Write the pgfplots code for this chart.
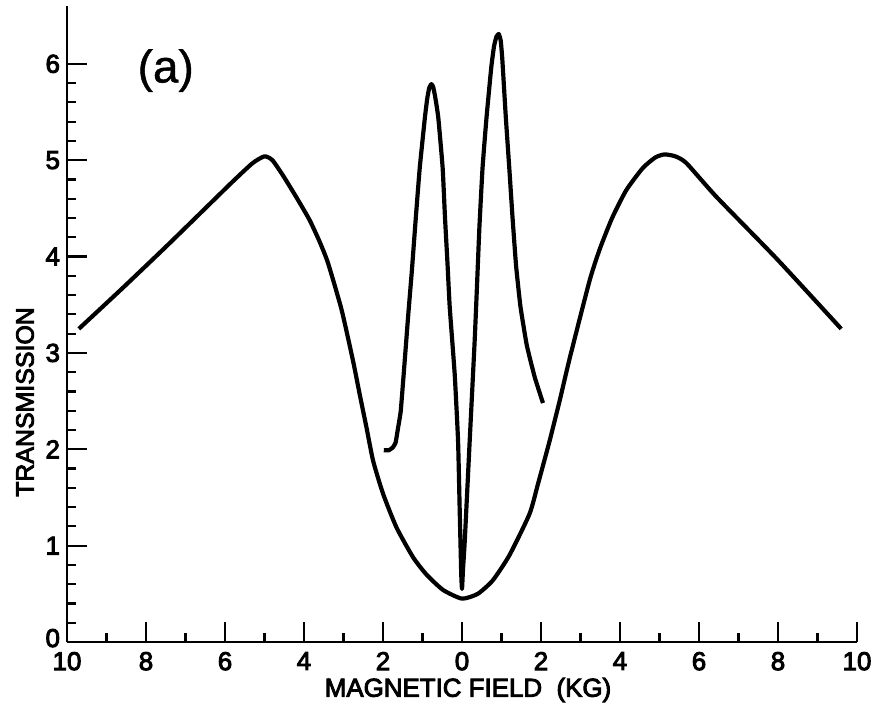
\documentclass[border=0pt]{standalone}
\usepackage{fontspec}
\setmainfont{Liberation Sans}[FakeBold=3.5]
\newfontfamily\biglabel{Liberation Sans}[FakeBold=1]
\usepackage{pgfplots}
\pgfplotsset{compat=1.18}

\begin{document}
\begin{tikzpicture}
\begin{axis}[
    name=ax,
    scale only axis,
    width=395bp, height=318bp,
    xmin=-10, xmax=10,
    ymin=0, ymax=6.6,
    axis x line*=bottom,
    axis y line*=left,
    axis line style={line width=1.3pt},
    tick align=inside,
    xtick={-10,-8,...,10},
    xticklabels={10,8,6,4,2,0,2,4,6,8,10},
    minor x tick num=1,
    ytick={0,1,...,6},
    yticklabels={\raisebox{4bp}{0},1,2,3,4,5,6},
    minor y tick num=4,
    major tick length=10bp,
    minor tick length=4.5bp,
    every tick/.style={line width=1.1pt, black},
    tick label style={font=\fontsize{13}{15}\selectfont},
    xticklabel style={yshift=-1.5pt},
    /pgf/number format/assume math mode=true,
    clip=false,
]
% broad curve
\addplot[black, line width=2.1pt, line join=round, smooth, tension=0.35] coordinates {
    (-9.70,3.25) (-8.60,3.67) (-7.50,4.10) (-6.50,4.50) (-5.80,4.78)
    (-5.30,4.97) (-5.00,5.04) (-4.80,5.00) (-4.53,4.84) (-4.20,4.62)
    (-3.86,4.38) (-3.60,4.15) (-3.39,3.93) (-3.05,3.45) (-2.76,2.92)
    (-2.59,2.57) (-2.42,2.23) (-2.25,1.88) (-2.00,1.54) (-1.66,1.19)
    (-1.24,0.88) (-0.90,0.70) (-0.48,0.54) (0.00,0.45) (0.40,0.50)
    (0.78,0.64) (1.20,0.90) (1.71,1.33) (1.93,1.65) (2.22,2.09)
    (2.47,2.50) (2.73,2.95) (3.23,3.75) (3.49,4.08) (3.80,4.40)
    (4.16,4.69) (4.58,4.92) (4.90,5.03) (5.13,5.06) (5.40,5.04)
    (5.68,4.97) (6.44,4.62) (7.96,3.98) (9.60,3.25)
};
% narrow double peak
\addplot[black, line width=2.1pt, line join=round, smooth, tension=0.25] coordinates {
    (-1.98,1.99) (-1.85,1.99) (-1.75,2.02) (-1.68,2.07) (-1.62,2.22)
    (-1.55,2.40) (-1.45,2.92) (-1.36,3.40) (-1.27,3.85) (-1.17,4.40)
    (-1.07,4.92) (-0.94,5.44) (-0.88,5.64) (-0.83,5.75) (-0.775,5.79)
    (-0.73,5.76) (-0.68,5.66) (-0.60,5.44) (-0.49,4.92) (-0.43,4.40)
    (-0.37,3.95) (-0.31,3.47) (-0.185,2.78) (-0.10,2.09) (-0.06,1.40)
    (-0.02,0.71) (0.00,0.55) (0.025,0.75) (0.07,1.05) (0.195,2.09)
    (0.32,3.12) (0.38,3.70) (0.44,4.30) (0.52,4.92) (0.62,5.44)
    (0.74,5.96) (0.81,6.18) (0.87,6.28) (0.93,6.31) (0.98,6.24)
    (1.02,6.05) (1.11,5.44) (1.20,4.90) (1.28,4.40) (1.37,3.90)
    (1.48,3.48) (1.64,3.08) (1.84,2.75) (2.05,2.48)
};
\node[font=\biglabel\fontsize{23}{26}\selectfont] at (axis cs:-7.5,5.93) {(a)};
\end{axis}
\node[font=\fontsize{12.5}{14}\selectfont, rotate=90] at ([xshift=-21bp, yshift=120bp]ax.south west) {TRANSMISSION};
\node[font=\fontsize{13}{15}\selectfont] at ([xshift=3bp, yshift=-24bp]ax.south) {MAGNETIC FIELD\ \ (KG)};
\pgfresetboundingbox
\path[use as bounding box] ([xshift=-33.5bp, yshift=-34.5bp]ax.south west) rectangle ([xshift=402.5bp, yshift=321bp]ax.south west);
\end{tikzpicture}
\end{document}
